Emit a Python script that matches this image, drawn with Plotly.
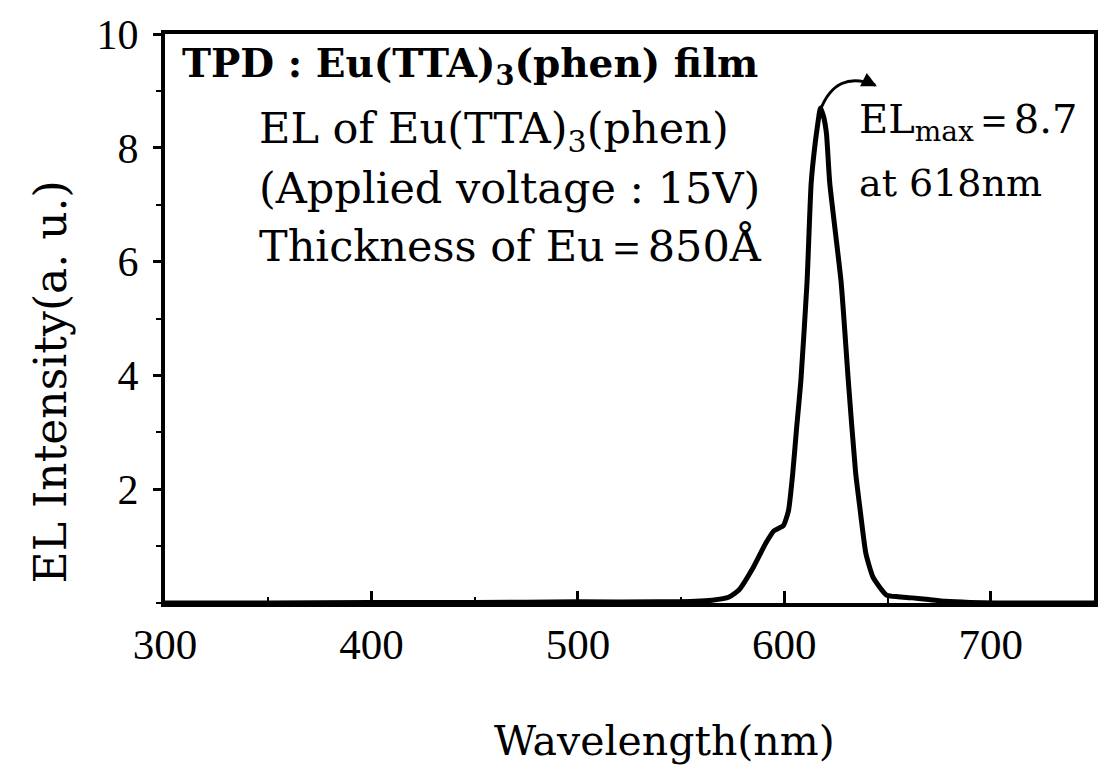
import plotly.graph_objects as go

# ---- data ----
wavelength_nm = [300, 350, 400, 450, 500, 540, 557, 565, 573, 578, 585, 591, 595,
                 599.5, 602, 604, 606, 608, 611, 613, 615, 616.5, 617.5, 619,
                 620.4, 622, 627.5, 631, 634.5, 636.5, 639.5, 643, 649.5, 655,
                 662, 670, 678, 690, 702, 720, 750]
el_intensity = [0.0, 0.0, 0.01, 0.01, 0.02, 0.02, 0.03, 0.05, 0.1, 0.23, 0.63, 1.05,
                1.27, 1.36, 1.62, 2.25, 3.1, 3.9, 5.64, 7.38, 8.1, 8.5, 8.7, 8.55,
                8.25, 7.38, 5.64, 3.9, 2.3, 1.7, 0.87, 0.45, 0.14, 0.11, 0.09,
                0.06, 0.03, 0.01, 0.0, 0.0, 0.0]

x_tick_vals = [300, 400, 500, 600, 700]
x_tick_text = ["300", "400", "500", "600", "700"]
y_tick_vals = [2, 4, 6, 8, 10]
y_tick_text = ["2", "4", "6", "8", "10"]

peak_wavelength = 618
peak_value = 8.7

SERIF = "DejaVu Serif"
TICKFONT = "Liberation Serif"

fig = go.Figure()
fig.add_trace(go.Scatter(
    x=wavelength_nm, y=el_intensity, mode="lines",
    line=dict(color="black", width=5, shape="spline", smoothing=0.5),
    showlegend=False, hoverinfo="skip",
))

# curved arrow from the peak to the EL_max label
fig.add_shape(type="path", xref="x", yref="y",
              path="M 617.4,8.66 Q 625,9.38 644,9.1",
              line=dict(color="black", width=3))
fig.add_annotation(x=644.8, y=9.08, xref="x", yref="y", ax=-12, ay=-6,
                   showarrow=True, arrowhead=2, arrowsize=1.2, arrowwidth=2.5,
                   arrowcolor="black", text="")

fig.add_annotation(text="<b>TPD : Eu(TTA)<sub>3</sub>(phen) film</b>",
                   x=0.016, y=0.944, xref="paper", yref="paper",
                   xanchor="left", yanchor="middle", showarrow=False,
                   font=dict(family=SERIF, size=39, color="black"))
text_lines = [
    ("EL of Eu(TTA)<sub>3</sub>(phen)", 0.099, 0.829),
    ("(Applied voltage : 15V)", 0.099, 0.729),
    ("Thickness of Eu＝850Å", 0.099, 0.628),
]
for txt, px, py in text_lines:
    fig.add_annotation(text=txt, x=px, y=py, xref="paper", yref="paper",
                       xanchor="left", yanchor="middle", showarrow=False,
                       font=dict(family=SERIF, size=43, color="black"))

fig.add_annotation(text="EL<sub>max</sub>＝%.1f" % peak_value, x=0.745, y=0.846,
                   xref="paper", yref="paper", xanchor="left", yanchor="middle",
                   showarrow=False, font=dict(family=SERIF, size=40, color="black"))
fig.add_annotation(text="at %dnm" % peak_wavelength, x=0.745, y=0.738,
                   xref="paper", yref="paper", xanchor="left", yanchor="middle",
                   showarrow=False, font=dict(family=SERIF, size=38, color="black"))

# axis titles
fig.add_annotation(text="EL Intensity(a. u.)", x=-0.123, y=0.389,
                   xref="paper", yref="paper", textangle=-90, showarrow=False,
                   xanchor="center", yanchor="middle",
                   font=dict(family=SERIF, size=44, color="black"))
fig.add_annotation(text="Wavelength(nm)", x=0.538, y=-0.243,
                   xref="paper", yref="paper", showarrow=False,
                   xanchor="center", yanchor="middle",
                   font=dict(family=SERIF, size=41, color="black"))

fig.update_layout(
    width=1110, height=772,
    margin=dict(l=165, r=12, t=30, b=169),
    paper_bgcolor="white", plot_bgcolor="white",
    xaxis=dict(range=[300, 750], tickvals=x_tick_vals, ticktext=x_tick_text,
               ticks="inside", ticklen=12, tickwidth=3, tickcolor="black",
               showline=True, linewidth=4, linecolor="black", mirror=True,
               showgrid=False, zeroline=False, ticklabelstandoff=0,
               tickfont=dict(family=TICKFONT, size=43, color="black"),
               minor=dict(dtick=50, tick0=300, ticks="inside", ticklen=6,
                          tickwidth=2, tickcolor="black")),
    yaxis=dict(range=[0, 10], tickvals=y_tick_vals, ticktext=y_tick_text,
               ticks="outside", ticklen=8, tickwidth=3, tickcolor="black",
               showline=True, linewidth=4, linecolor="black", mirror=True,
               showgrid=False, zeroline=False, ticklabelstandoff=6,
               tickfont=dict(family=TICKFONT, size=42, color="black"),
               minor=dict(dtick=1, tick0=0, ticks="outside", ticklen=5,
                          tickwidth=2, tickcolor="black")),
)

fig.write_html("out.html")
